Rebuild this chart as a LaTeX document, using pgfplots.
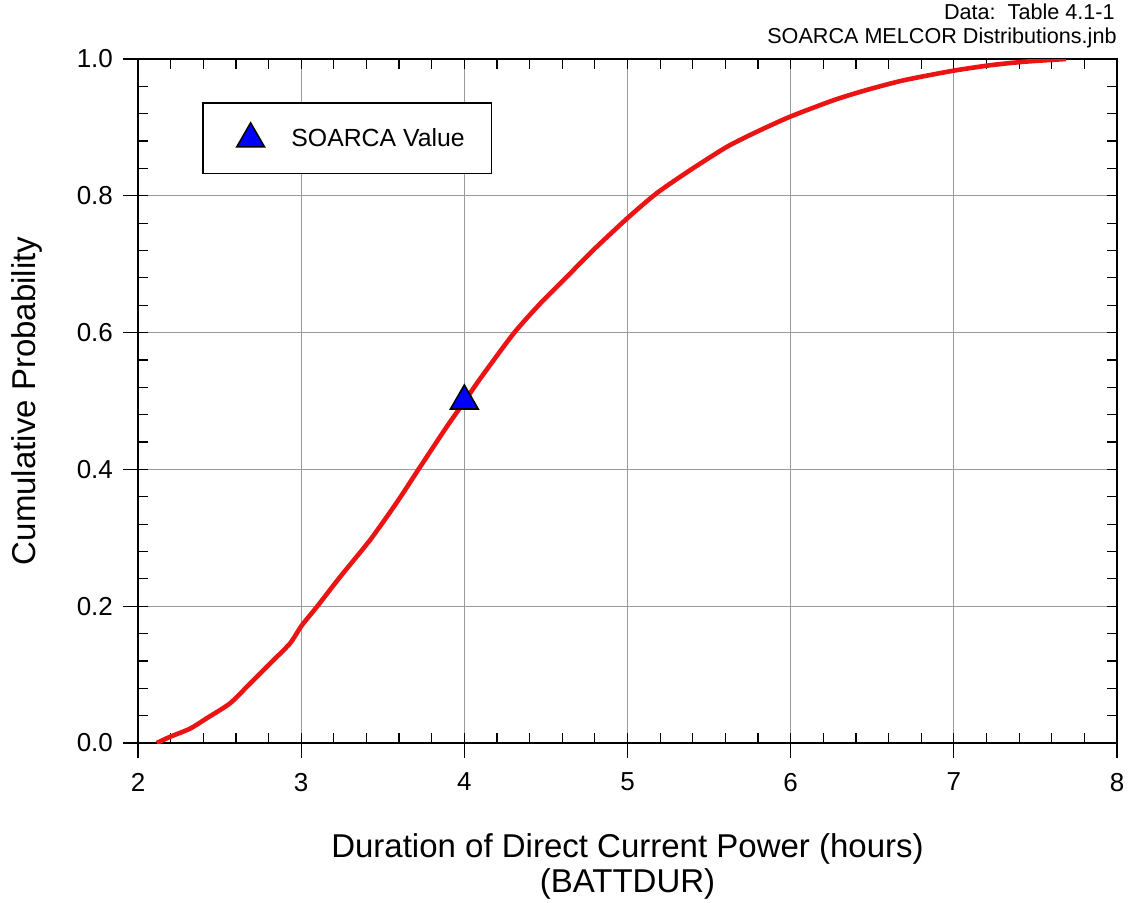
\documentclass[border=0pt]{standalone}
\usepackage{fontspec}
\setmainfont{Liberation Sans}
\usepackage{pgfplots}
\pgfplotsset{compat=1.18}

\definecolor{gridgray}{RGB}{155,155,155}
\definecolor{cdfred}{RGB}{235,20,20}

\begin{document}
\begin{tikzpicture}
\useasboundingbox (-69pt,-79.5pt) rectangle (495pt,371.5pt);
\begin{axis}[
    at={(0,0)}, anchor=south west,
    scale only axis,
    width=489.5pt, height=342pt,
    xmin=2, xmax=8, ymin=0, ymax=1,
    clip mode=individual,
    xtick={2,...,8},
    ytick={0,0.2,0.4,0.6,0.8,1.0},
    minor x tick num=4,
    minor y tick num=4,
    tick align=inside,
    major tick length=5pt,
    minor tick length=5pt,
    tick style={black, line width=0.6pt},
    grid=major,
    major grid style={gridgray, line width=0.6pt},
    axis line style={black, line width=1.2pt},
    /pgf/number format/assume math mode=true,
    ticklabel style={font=\fontsize{13}{15}\selectfont},
    xticklabel style={yshift=-11.5pt},
    yticklabel style={xshift=-9pt, /pgf/number format/.cd, fixed, fixed zerofill, precision=1},
    xlabel={Duration of Direct Current Power (hours)\\(BATTDUR)},
    xlabel style={at={([yshift=-61.5pt]rel axis cs:0.5,0)}, anchor=center, align=center,
        font=\fontsize{16.5}{17.5}\selectfont},
    ylabel={Cumulative Probability},
    ylabel style={at={([xshift=-55.5pt]rel axis cs:0,0.5)}, anchor=center,
        font=\fontsize{16.5}{17.5}\selectfont},
    legend style={at={(0.0654,0.937)}, anchor=north west, draw=black, line width=0.8pt,
        inner xsep=11.5pt, inner ysep=10pt, font=\fontsize{12.4}{14}\selectfont},
    legend image code/.code={
        \draw[#1] plot coordinates {(12pt,0pt)};
        \path (0pt,0pt) (30pt,0pt);
    },
]
\addplot[cdfred, line width=2.3pt, smooth, tension=0.4, forget plot] coordinates {
    (2.115,0) (2.196,0.009) (2.319,0.021) (2.42,0.036) (2.564,0.058)
    (2.687,0.087) (2.83,0.121) (2.933,0.146) (3.004,0.172) (3.096,0.199)
    (3.239,0.243) (3.423,0.297) (3.587,0.352) (3.73,0.404) (3.894,0.463)
    (4.0,0.499) (4.098,0.533) (4.303,0.599) (4.467,0.643) (4.63,0.682)
    (4.783,0.719) (4.998,0.767) (5.18,0.804) (5.387,0.838)
    (5.612,0.872) (5.796,0.894) (6.0,0.916) (6.266,0.940) (6.47,0.955)
    (6.695,0.969) (7.0,0.983) (7.227,0.991) (7.43,0.996) (7.687,1.0)
};
\addplot[only marks, mark=triangle*, mark size=8pt,
    mark options={fill=blue, draw=black, line width=0.8pt}] coordinates {(4,0.5)};
\addlegendentry{SOARCA Value}
\node[anchor=base east, inner sep=0, font=\fontsize{10.8}{12}\selectfont]
    at ([xshift=-1pt, yshift=20pt]rel axis cs:1,1) {Data:\ \ Table 4.1-1};
\node[anchor=base east, inner sep=0, font=\fontsize{10.8}{12}\selectfont]
    at ([yshift=8pt]rel axis cs:1,1) {SOARCA MELCOR Distributions.jnb};
\end{axis}
% outward major ticks on the bottom and left sides
\begin{axis}[
    at={(0,0)}, anchor=south west,
    scale only axis,
    width=489.5pt, height=342pt,
    xmin=2, xmax=8, ymin=0, ymax=1,
    xtick={2,...,8},
    ytick={0,0.2,0.4,0.6,0.8,1.0},
    minor tick num=0,
    xtick pos=left, ytick pos=left,
    tick align=outside,
    major tick length=7.5pt,
    tick style={black, line width=0.6pt},
    xticklabels={}, yticklabels={},
    axis line style={draw=none},
]
\end{axis}
\end{tikzpicture}
\end{document}
